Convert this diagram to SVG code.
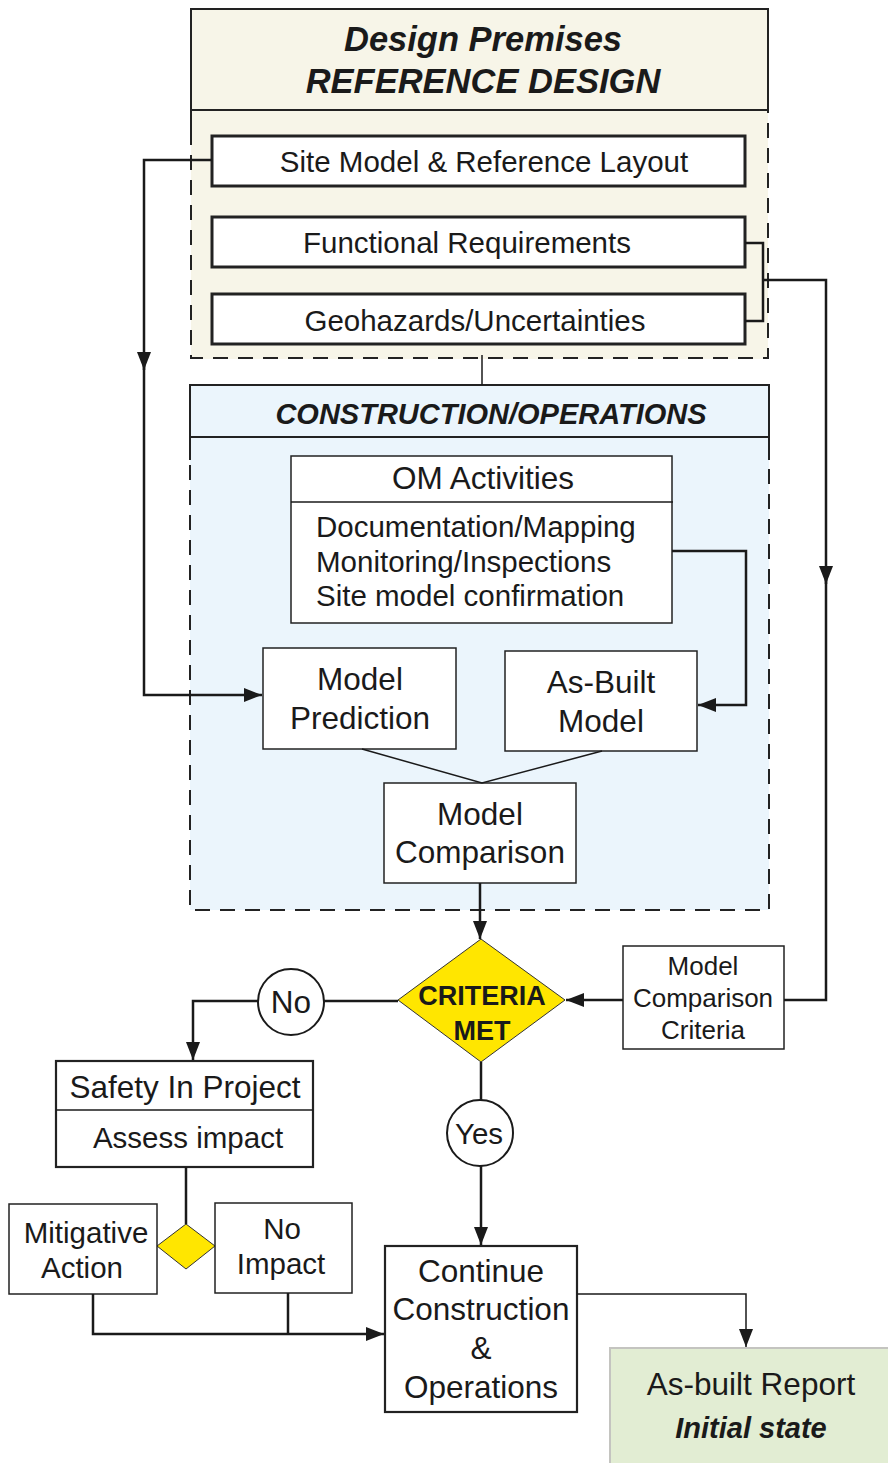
<svg xmlns="http://www.w3.org/2000/svg" width="888" height="1463" viewBox="0 0 888 1463">
<style>
text{font-family:"Liberation Sans",Arial,sans-serif;fill:#1a1a1a;text-anchor:middle}
.l{text-anchor:start}
.t26{font-size:29.5px}
.t28{font-size:31.5px}
.t23{font-size:26px}
.bi{font-weight:bold;font-style:italic}
.box{fill:#fff;stroke:#222;stroke-width:1.5}
.boxb{fill:#fff;stroke:#222;stroke-width:3}
.boxm{fill:#fff;stroke:#222;stroke-width:2.2}
.con{fill:none;stroke:#1a1a1a;stroke-width:2.5}
.thin{fill:none;stroke:#1a1a1a;stroke-width:1.5}
.dash{fill:none;stroke:#222;stroke-width:2;stroke-dasharray:15 10}
.solid{fill:none;stroke:#222;stroke-width:2}
.yel{fill:#ffe600;stroke:#333;stroke-width:1}
</style>
<defs>
<marker id="arr" markerUnits="userSpaceOnUse" markerWidth="20" markerHeight="14" refX="18" refY="7" orient="auto">
<path d="M0,0 L18,7 L0,14 Z" fill="#1a1a1a"/>
</marker>
</defs>

<g id="design-premises">
<rect x="191" y="9" width="577" height="350" fill="#f7f5e8"/>
<path class="solid" d="M191,130 V9 H768 V110"/>
<line class="solid" x1="191" y1="110" x2="768" y2="110" stroke-width="3"/>
<path class="dash" d="M191,130 V358 H768 V110"/>
<text class="bi" x="483" y="51" font-size="34.5">Design Premises</text>
<text class="bi" x="483" y="93" font-size="34.5">REFERENCE DESIGN</text>
</g>
<g id="site-model">
<rect class="boxb" x="212" y="136" width="533" height="50"/>
<text class="t26" x="484" y="172">Site Model &amp; Reference Layout</text>
</g>
<g id="functional">
<rect class="boxb" x="212" y="217" width="533" height="50"/>
<text class="t26" x="467" y="253">Functional Requirements</text>
</g>
<g id="geohazards">
<rect class="boxb" x="212" y="294" width="533" height="50"/>
<text class="t26" x="475" y="331">Geohazards/Uncertainties</text>
</g>

<g id="construction">
<rect x="190" y="385" width="579" height="525" fill="#ebf5fc"/>
<path class="solid" d="M190,460 V385 H769 V460"/>
<line class="solid" x1="190" y1="437" x2="769" y2="437" stroke-width="3"/>
<path class="dash" d="M190,440 V910 H769 V440"/>
<text class="bi" x="491" y="424" font-size="29">CONSTRUCTION/OPERATIONS</text>
</g>
<g id="om-activities">
<rect class="box" x="291" y="456" width="381" height="167"/>
<line class="thin" x1="291" y1="502" x2="673" y2="502"/>
<text class="t28" x="483" y="489">OM Activities</text>
<text class="t26 l" x="316" y="537">Documentation/Mapping</text>
<text class="t26 l" x="316" y="572">Monitoring/Inspections</text>
<text class="t26 l" x="316" y="606">Site model confirmation</text>
</g>
<g id="model-prediction">
<rect class="box" x="263" y="648" width="193" height="101"/>
<text class="t28" x="360" y="690">Model</text>
<text class="t28" x="360" y="729">Prediction</text>
</g>
<g id="as-built-model">
<rect class="box" x="505" y="651" width="192" height="100"/>
<text class="t28" x="601" y="693">As-Built</text>
<text class="t28" x="601" y="732">Model</text>
</g>
<g id="model-comparison">
<rect class="box" x="384" y="783" width="192" height="100"/>
<text class="t28" x="480" y="825">Model</text>
<text class="t28" x="480" y="863">Comparison</text>
</g>

<g id="criteria-met">
<polygon class="yel" points="481,939 565,1000 481,1062 398,1000"/>
<text x="482" y="1005" font-size="27" font-weight="bold">CRITERIA</text>
<text x="482" y="1040" font-size="27" font-weight="bold">MET</text>
</g>
<g id="criteria-box">
<rect class="box" x="623" y="946" width="161" height="103"/>
<text class="t23" x="703" y="975">Model</text>
<text class="t23" x="703" y="1007">Comparison</text>
<text class="t23" x="703" y="1039">Criteria</text>
</g>
<g id="no">
<ellipse cx="291" cy="1002" rx="33" ry="33" fill="#fff" stroke="#1a1a1a" stroke-width="2"/>
<text class="t28" x="291" y="1013">No</text>
</g>
<g id="yes">
<ellipse cx="480" cy="1133" rx="33" ry="33" fill="#fff" stroke="#1a1a1a" stroke-width="2"/>
<text class="t26" x="479" y="1144">Yes</text>
</g>
<g id="safety">
<rect class="boxm" x="56" y="1061" width="257" height="106"/>
<line class="thin" x1="56" y1="1110" x2="313" y2="1110"/>
<text class="t28" x="185" y="1098">Safety In Project</text>
<text class="t26" x="188" y="1148">Assess impact</text>
</g>
<g id="small-diamond">
<polygon class="yel" points="186,1224 215,1246 186,1269 157,1246"/>
</g>
<g id="mitigative">
<rect class="box" x="9" y="1204" width="148" height="90"/>
<text class="t26" x="86" y="1243">Mitigative</text>
<text class="t26" x="82" y="1278">Action</text>
</g>
<g id="no-impact">
<rect class="box" x="215" y="1203" width="137" height="90"/>
<text class="t26" x="282" y="1239">No</text>
<text class="t26" x="281" y="1274">Impact</text>
</g>
<g id="continue">
<rect class="boxm" x="385" y="1246" width="192" height="166"/>
<text class="t28" x="481" y="1282">Continue</text>
<text class="t28" x="481" y="1320">Construction</text>
<text class="t28" x="481" y="1359">&amp;</text>
<text class="t28" x="481" y="1398">Operations</text>
</g>
<g id="as-built-report">
<rect x="610" y="1348" width="280" height="118" fill="#e2edd3" stroke="#c4c4c0" stroke-width="2"/>
<text class="t28" x="751" y="1395">As-built Report</text>
<text class="bi" x="751" y="1438" font-size="29">Initial state</text>
</g>

<g id="connectors">
<polyline class="con" points="212,160 144,160 144,370" marker-end="url(#arr)"/>
<polyline class="con" points="144,360 144,695 262,695" marker-end="url(#arr)"/>
<polyline class="con" points="745,243 763,243 763,321 745,321"/>
<polyline class="con" points="763,280 826,280 826,584" marker-end="url(#arr)"/>
<polyline class="con" points="826,575 826,1000 784,1000"/>
<line class="thin" x1="482" y1="355" x2="482" y2="385" stroke-width="2"/>
<polyline class="con" points="672,551 746,551 746,705 698,705" marker-end="url(#arr)"/>
<polyline class="thin" points="362,749 482,783 602,751"/>
<line class="con" x1="480" y1="883" x2="480" y2="939" marker-end="url(#arr)"/>
<line class="con" x1="623" y1="1000" x2="566" y2="1000" marker-end="url(#arr)"/>
<line class="con" x1="398" y1="1001" x2="324" y2="1001"/>
<polyline class="con" points="258,1001 193,1001 193,1060" marker-end="url(#arr)"/>
<line class="con" x1="481" y1="1062" x2="481" y2="1100"/>
<line class="con" x1="481" y1="1166" x2="481" y2="1245" marker-end="url(#arr)"/>
<line class="con" x1="186" y1="1167" x2="186" y2="1224"/>
<polyline class="con" points="93,1294 93,1334 384,1334" marker-end="url(#arr)"/>
<line class="con" x1="288" y1="1293" x2="288" y2="1334"/>
<polyline class="thin" points="577,1294 746,1294 746,1347" marker-end="url(#arr)" stroke-width="2"/>
</g>
</svg>
